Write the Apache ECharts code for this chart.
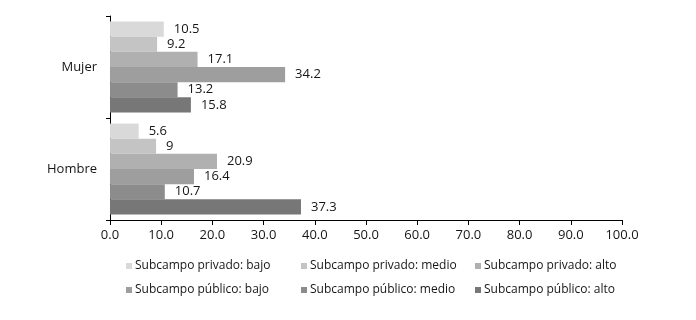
<!DOCTYPE html>
<html>
<head>
<meta charset="utf-8">
<script src="https://cdn.jsdelivr.net/npm/echarts@6/dist/echarts.min.js"></script>
<style>
  html, body { margin: 0; padding: 0; background: #fff; }
  #chart { width: 696px; height: 320px; }
</style>
</head>
<body>
<div id="chart"></div>
<script>
const categories = ['Mujer', 'Hombre'];
const seriesNames = [
  'Subcampo privado: bajo',
  'Subcampo privado: medio',
  'Subcampo privado: alto',
  'Subcampo público: bajo',
  'Subcampo público: medio',
  'Subcampo público: alto'
];
const privadoBajo = [10.5, 5.6];
const privadoMedio = [9.2, 9];
const privadoAlto = [17.1, 20.9];
const publicoBajo = [34.2, 16.4];
const publicoMedio = [13.2, 10.7];
const publicoAlto = [15.8, 37.3];
const xTicks = [0, 10, 20, 30, 40, 50, 60, 70, 80, 90, 100];

const values = [privadoBajo, privadoMedio, privadoAlto, publicoBajo, publicoMedio, publicoAlto];
const colors = ['#d9d9d9', '#c4c4c4', '#b0b0b0', '#9e9e9e', '#8c8c8c', '#777777'];
const font = "'Open Sans', 'Noto Sans', sans-serif";
const textColor = '#161616';

// legend laid out as a 3x2 grid, one component per entry
const legendCols = [121, 296, 470];
const legendRows = [255, 279];
const legends = seriesNames.map((name, i) => ({
  data: [name],
  left: legendCols[i % 3],
  top: legendRows[Math.floor(i / 3)],
  icon: 'rect',
  itemWidth: 6,
  itemHeight: 6,
  itemGap: 0,
  selectedMode: false,
  textStyle: { color: textColor, fontSize: 12, fontFamily: font, padding: [0, 0, 0, -2] }
}));

const chart = echarts.init(document.getElementById('chart'));
chart.setOption({
  animation: false,
  color: colors,
  legend: legends,
  grid: { left: 110, right: 74, top: 16, bottom: 100 },
  xAxis: {
    type: 'value',
    min: xTicks[0],
    max: xTicks[xTicks.length - 1],
    interval: 10,
    axisLine: { show: true, lineStyle: { color: '#000', width: 1 } },
    axisTick: { show: true, length: 5, lineStyle: { color: '#000' } },
    splitLine: { show: false },
    axisLabel: {
      color: textColor,
      fontSize: 13,
      fontFamily: font,
      margin: 9,
      formatter: (v) => v.toFixed(1)
    }
  },
  yAxis: {
    type: 'category',
    data: categories,
    inverse: true,
    axisLine: { show: true, lineStyle: { color: '#000', width: 1 } },
    axisTick: { show: true, length: 4, lineStyle: { color: '#000' } },
    axisLabel: { color: textColor, fontSize: 13, fontFamily: font, margin: 13 }
  },
  series: seriesNames.map((name, i) => ({
    name,
    type: 'bar',
    data: values[i],
    barGap: '0%',
    barCategoryGap: '11%',
    itemStyle: { color: colors[i] },
    label: {
      show: true,
      position: 'right',
      distance: 10,
      color: textColor,
      fontSize: 13,
      fontFamily: font
    }
  }))
});
</script>
</body>
</html>
